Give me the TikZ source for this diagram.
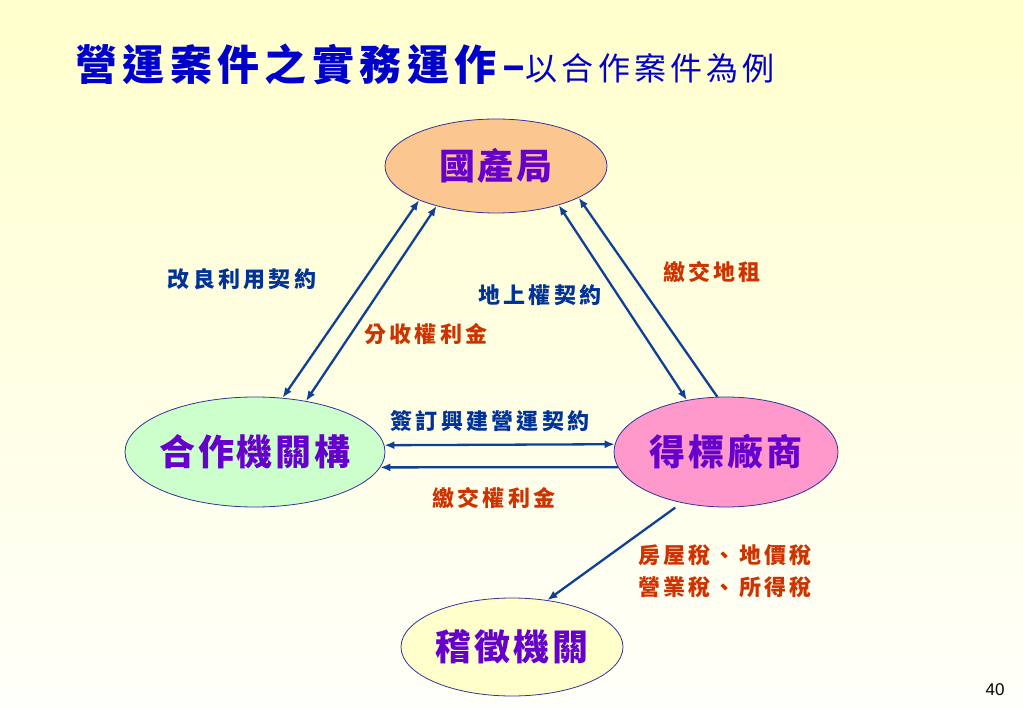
\documentclass[tikz,border=0pt]{standalone}
\usepackage{fontspec}
\newfontfamily\cjk[LetterSpace=15]{Noto Sans CJK TC}
\newfontfamily\cjkbig[LetterSpace=8]{Noto Sans CJK TC}
\newfontfamily\cjktitle[LetterSpace=13]{Noto Sans CJK TC}
\newfontfamily\cjksub[LetterSpace=13]{Noto Sans CJK TC}
\newfontfamily\arial{Liberation Sans}
\usetikzlibrary{shapes.geometric,arrows.meta}
\definecolor{bgtop}{RGB}{255,255,204}
\definecolor{bgbottom}{RGB}{255,255,250}
\definecolor{titleblue}{RGB}{0,0,204}
\definecolor{edge}{RGB}{51,51,153}
\definecolor{namepurple}{RGB}{102,0,204}
\definecolor{lineblue}{RGB}{16,64,150}
\definecolor{lblblue}{RGB}{0,51,153}
\definecolor{lblred}{RGB}{204,51,0}
\definecolor{peach}{RGB}{252,198,144}
\definecolor{mint}{RGB}{204,255,204}
\definecolor{pink}{RGB}{255,153,204}
\definecolor{cream}{RGB}{255,255,204}

\begin{document}
\begin{tikzpicture}[x=1pt,y=-1pt,>={Latex[length=10pt,width=8pt]},
    oval/.style={ellipse,draw=edge,line width=0.8pt,inner sep=0pt,text=namepurple,
        font=\cjkbig\bfseries\fontsize{36}{36}\selectfont},
    link/.style={draw=lineblue,line width=2.3pt},
    bluetxt/.style={inner sep=0pt,text=lblblue,font=\cjk\bfseries\fontsize{22}{26}\selectfont},
    redtxt/.style={inner sep=0pt,text=lblred,font=\cjk\bfseries\fontsize{22}{26}\selectfont}]
    \shade[top color=bgtop,bottom color=bgbottom] (0,0) rectangle (1023,708);
    \useasboundingbox (0,0) rectangle (1023,708);
    % title
    \node[anchor=base west,inner sep=0pt,text=titleblue,
        font=\cjktitle\bfseries\fontsize{42}{42}\selectfont] (title) at (75,81) {營運案件之實務運作–};
    \node[anchor=base west,inner sep=0pt,text=titleblue,
        font=\cjksub\fontsize{32}{32}\selectfont] (subtitle) at (title.base east) {以合作案件為例};
    % parties
    \node[oval,fill=peach,minimum width=222pt,minimum height=94pt] (gcj) at (496,166) {\makebox[0pt]{國產局}};
    \node[oval,fill=mint,minimum width=260pt,minimum height=110pt] (hz) at (255,452) {\makebox[0pt]{合作機關構}};
    \node[oval,fill=pink,minimum width=224pt,minimum height=110pt] (db) at (726,452) {\makebox[0pt]{得標廠商}};
    \node[oval,fill=cream,minimum width=222pt,minimum height=98pt] (jz) at (512,647) {\makebox[0pt]{稽徵機關}};
    % connectors
    \draw[link,<->] (gcj.204) -- (hz.63);
    \draw[link,<->] (gcj.214) -- (hz.45);
    \draw[link,<->] (gcj.328) -- (db.127);
    \draw[link,->] (db.99) -- (gcj.339);
    \draw[link,<->] (hz.3) -- (db.176);
    \draw[link,->] (db.188) -- (hz.353);
    \draw[link,->,shorten <=8pt] (db.229) -- (jz.53);
    % labels
    \node[bluetxt] (l1) at (242,279) {改良利用契約};
    \node[redtxt] (l2) at (426,334) {分收權利金};
    \node[bluetxt] (l3) at (540,295) {地上權契約};
    \node[redtxt] (l4) at (712,272) {繳交地租};
    \node[bluetxt] (l5) at (490,421) {簽訂興建營運契約};
    \node[redtxt] (l6) at (494,498) {繳交權利金};
    \node[redtxt,align=left] (l7) at (725,571) {房屋稅、地價稅\\[6pt]營業稅、所得稅};
    \node[inner sep=0pt,font=\arial\fontsize{17}{17}\selectfont] (pg) at (995,690) {40};
\end{tikzpicture}
\end{document}
